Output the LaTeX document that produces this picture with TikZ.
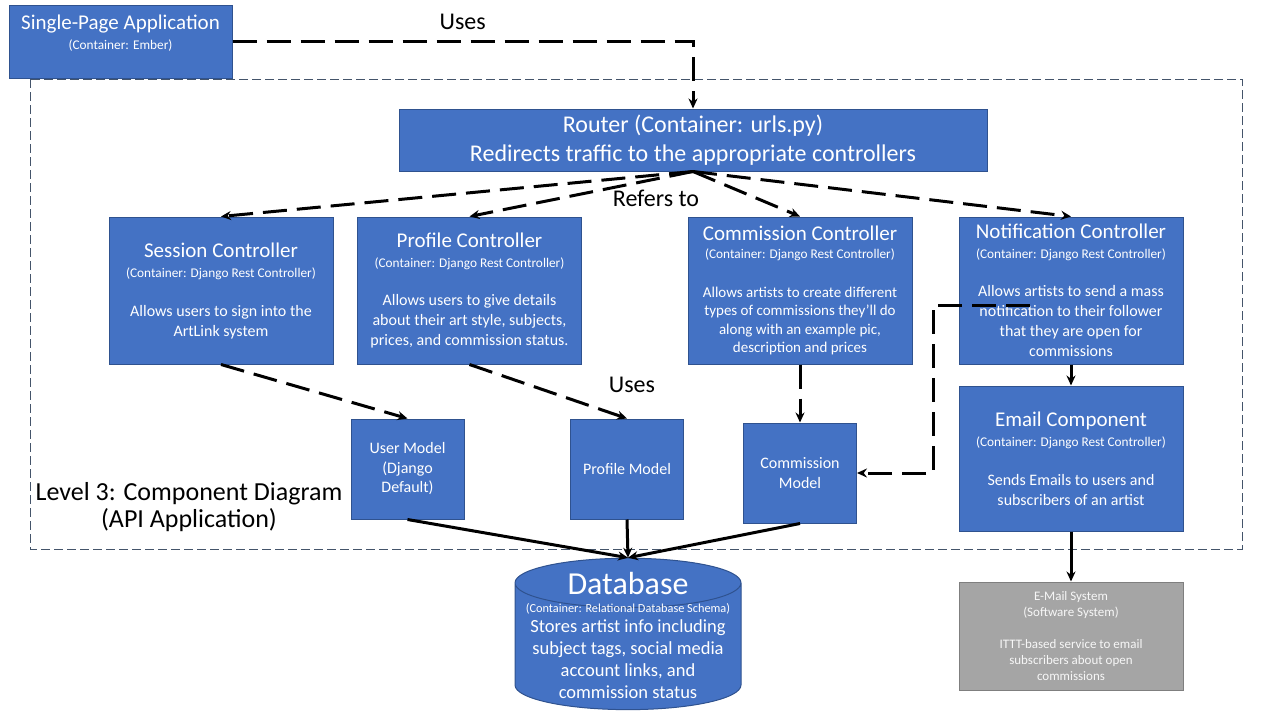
\documentclass[tikz,border=0pt]{standalone}
\usepackage{fontspec}
\setmainfont{Carlito}
\usetikzlibrary{arrows.meta,positioning,shapes.geometric}

\definecolor{boxblue}{RGB}{68,114,196}
\definecolor{boxedge}{RGB}{47,82,143}
\definecolor{sysgray}{RGB}{165,165,165}
\definecolor{sysedge}{RGB}{127,127,127}
\definecolor{bound}{RGB}{68,84,106}

\newcommand\boxtitle{\fontsize{21}{20}\selectfont}
\newcommand\boxsub{\fontsize{13.3}{20}\selectfont}

\begin{document}
\begin{tikzpicture}[x=1pt,y=-1pt,on grid,auto,
  comp/.style={draw=boxedge,line width=1pt,fill=boxblue,text=white,align=center,inner sep=0pt,
    minimum width=224pt,minimum height=147pt,font=\fontsize{16}{20}\selectfont},
  model/.style={comp,minimum width=113pt,minimum height=100pt,font=\fontsize{16}{19.5}\selectfont},
  ext/.style={comp,draw=sysedge,fill=sysgray,text=white!94!gray,minimum height=108pt,font=\fontsize{13}{16}\selectfont},
  dep/.style={line width=3pt,dash pattern=on 24pt off 10pt,-{Stealth[length=10pt,width=9pt]}},
  rel/.style={line width=3pt,-{Stealth[length=10pt,width=9pt]}},
  lbl/.style={font=\fontsize{24}{26}\selectfont}]
\useasboundingbox (0,0) rectangle (1280,720);

% system boundary
\draw[bound,line width=0.8pt,dash pattern=on 9pt off 4pt] (30,79) rectangle (1242,549);
\node[font=\fontsize{26}{27}\selectfont,align=center] (level) at (189,507) {Level 3: Component Diagram\\(API Application)};

\node[comp,minimum width=223pt,minimum height=73pt] (spa) at (120.5,41.5)
  {\parbox[c][54pt][t]{220pt}{\centering\boxtitle Single-Page Application\\ \boxsub (Container: Ember)}};
\node[comp,minimum width=588pt,minimum height=62pt,font=\fontsize{24}{29}\selectfont] (router) at (693,140)
  {Router (Container: urls.py)\\Redirects traffic to the appropriate controllers};

\node[comp] (sess) at (221,290.5)
  {{\boxtitle Session Controller}\\{\boxsub (Container: Django Rest Controller)}\\[19pt]
   Allows users to sign into the\\ArtLink system};
\node[comp] (prof) [right=248.5pt of sess]
  {{\boxtitle Profile Controller}\\{\boxsub (Container: Django Rest Controller)}\\[18pt]
   Allows users to give details\\about their art style, subjects,\\prices, and commission status.};
\node[comp,font=\fontsize{15}{18.5}\selectfont] (comm) [right=330.5pt of prof]
  {{\boxtitle Commission Controller}\\{\boxsub (Container: Django Rest Controller)}\\[20pt]
   Allows artists to create different\\types of commissions they’ll do\\along with an example pic,\\description and prices};
\node[comp] (notif) [right=271pt of comm]
  {{\boxtitle Notification Controller}\\{\boxsub (Container: Django Rest Controller)}\\[18pt]
   Allows artists to send a mass\\notification to their follower\\that they are open for\\commissions};
\node[comp,minimum height=145pt] (email) [below=168pt of notif]
  {{\boxtitle Email Component}\\{\boxsub (Container: Django Rest Controller)}\\[19pt]
   Sends Emails to users and\\subscribers of an artist};

\node[model] (userm) at (407.5,469) {User Model\\(Django\\Default)};
\node[model] (profm) [right=219.5pt of userm] {Profile Model};
\node[model] (commm) [below=182.5pt of comm] {Commission\\Model};

\node[ext] (mail) [below=177.5pt of email]
  {E-Mail System\\(Software System)\\[16pt]ITTT-based service to email\\subscribers about open\\commissions};

\node[cylinder,shape border rotate=90,aspect=0.22,draw=boxedge,line width=1pt,fill=boxblue,text=white,
  inner sep=0pt,minimum width=226pt,minimum height=150pt] (db) at (628,646.5)
  {\raisebox{9pt}[38.5pt][38.5pt]{\parbox[c][77pt][c]{224pt}{\centering
   \fontsize{32}{30}\selectfont Database\\
   \fontsize{12.3}{18}\selectfont (Container: Relational Database Schema)\\[-2pt]
   \fontsize{18.5}{22}\selectfont Stores artist info including\\subject tags, social media\\account links, and\\commission status}}};

% connectors
\draw[dep] (spa.east) -| node[lbl,pos=0.25,above=7pt] {Uses} (router.north);
\path[dep]
(router.south)
edge (sess.north)
edge (prof.north)
edge (comm.north)
edge (notif.north)
(sess.south) edge (userm.north)
(prof.south) edge (profm.north)
(comm.south) edge (commm.north);
\node[lbl] (refers) at (656,198) {Refers to};
\node[lbl] (uses) at (632,385) {Uses};

\coordinate (ntap) at (1030,305);
\draw[dep] (ntap) -- (933,305) |- (commm.east);

\path[rel]
(notif.south) edge (email.north)
(email.south) edge (mail.north)
(userm.south) edge (db.north)
(profm.south) edge (db.north)
(commm.south) edge (db.north);
\end{tikzpicture}
\end{document}
